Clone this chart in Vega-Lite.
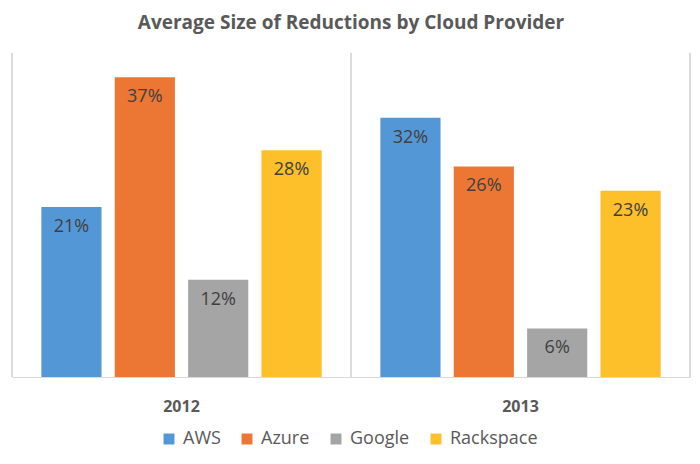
{
  "$schema": "https://vega.github.io/schema/vega-lite/v6.json",
  "width": 678,
  "height": 324,
  "autosize": {"type": "none"},
  "padding": {"left": 12, "top": 53, "right": 10, "bottom": 87},
  "title": {"text": "Average Size of Reductions by Cloud Provider", "fontSize": 19, "font": "Open Sans", "fontWeight": "bold", "color": "#595959", "offset": 20, "anchor": "middle"},
  "config": {"view": {"stroke": null}, "font": "Open Sans",
    "axisX": {"title": null, "labelAngle": 0, "ticks": false, "grid": false, "domainColor": "#d9d9d9", "labelFontSize": 16, "labelFontWeight": "bold", "labelColor": "#595959", "labelPadding": 21}},
  "data": {"values": [
    {"year": "2012", "provider": "AWS", "value": 0.21},
    {"year": "2012", "provider": "Azure", "value": 0.37},
    {"year": "2012", "provider": "Google", "value": 0.12},
    {"year": "2012", "provider": "Rackspace", "value": 0.28},
    {"year": "2013", "provider": "AWS", "value": 0.32},
    {"year": "2013", "provider": "Azure", "value": 0.26},
    {"year": "2013", "provider": "Google", "value": 0.06},
    {"year": "2013", "provider": "Rackspace", "value": 0.23}
  ]},
  "layer": [
    {
      "mark": {"type": "rule", "color": "#d9d9d9", "strokeWidth": 1},
      "encoding": {"x": {"field": "year", "type": "nominal", "bandPosition": 0, "title": null}}
    },
    {
      "mark": {"type": "rule", "color": "#d9d9d9", "strokeWidth": 1},
      "encoding": {"x": {"datum": "2013", "type": "nominal", "bandPosition": 1, "title": null}}
    },
    {
      "mark": {"type": "bar"},
      "encoding": {
        "x": {"field": "year", "type": "nominal", "title": null, "scale": {"paddingInner": 0, "paddingOuter": 0}},
        "xOffset": {"field": "provider", "type": "nominal", "sort": ["AWS", "Azure", "Google", "Rackspace"], "scale": {"paddingInner": 0.18, "paddingOuter": 0.4}},
        "y": {"field": "value", "type": "quantitative", "scale": {"domain": [0, 0.4]}, "axis": null},
        "color": {"field": "provider", "type": "nominal", "scale": {"domain": ["AWS", "Azure", "Google", "Rackspace"], "range": ["#5497d6", "#ec7633", "#a5a5a5", "#fdbf2a"]},
          "legend": {"orient": "none", "legendX": 148, "legendY": 377, "direction": "horizontal", "title": null, "symbolType": "square", "symbolSize": 120, "symbolStrokeWidth": 0, "labelFontSize": 18, "labelColor": "#595959", "columnPadding": 17, "labelOffset": 5, "symbolOpacity": 1}}
      }
    },
    {
      "mark": {"type": "text", "dy": 20, "fontSize": 18, "color": "#404040", "align": "center", "baseline": "middle"},
      "encoding": {
        "x": {"field": "year", "type": "nominal", "title": null},
        "xOffset": {"field": "provider", "type": "nominal", "sort": ["AWS", "Azure", "Google", "Rackspace"]},
        "y": {"field": "value", "type": "quantitative", "axis": null},
        "text": {"field": "value", "type": "quantitative", "format": ".0%"}
      }
    }
  ]
}
